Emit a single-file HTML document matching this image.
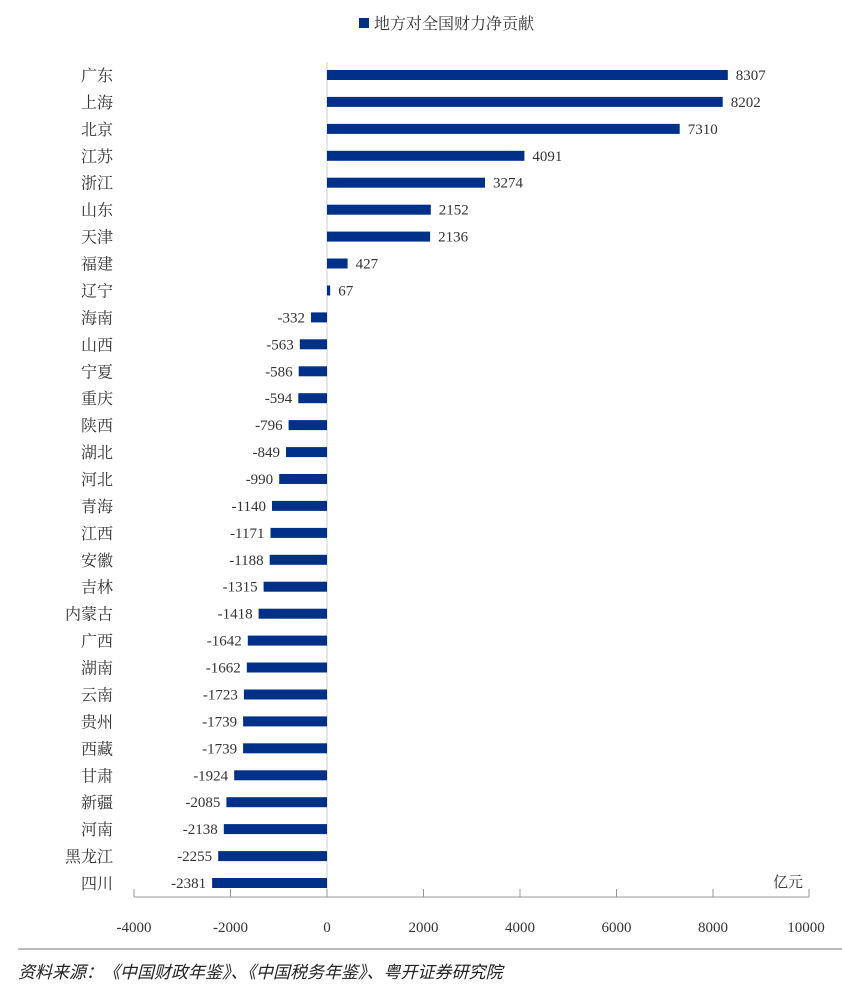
<!DOCTYPE html>
<html><head><meta charset="utf-8"><style>
body{margin:0;background:#fff;}
svg text{font-family:"Liberation Serif","Noto Serif CJK SC",serif;fill:#333;}
.b{fill:#003087}
</style></head><body>
<svg width="842" height="1000" xmlns="http://www.w3.org/2000/svg">
<rect x="359" y="18" width="10" height="10" fill="#003087"/>
<text x="374" y="29" font-size="16">地方对全国财力净贡献</text>
<line x1="327" y1="62" x2="327" y2="897" stroke="#ccc" stroke-width="1"/>
<g>
<rect class="b" x="327" y="70" width="400.8" height="10"/>
<rect class="b" x="327" y="96.9" width="395.7" height="10"/>
<rect class="b" x="327" y="123.9" width="352.7" height="10"/>
<rect class="b" x="327" y="150.8" width="197.4" height="10"/>
<rect class="b" x="327" y="177.7" width="158.0" height="10"/>
<rect class="b" x="327" y="204.7" width="103.8" height="10"/>
<rect class="b" x="327" y="231.6" width="103.1" height="10"/>
<rect class="b" x="327" y="258.5" width="20.6" height="10"/>
<rect class="b" x="327" y="285.5" width="3.2" height="10"/>
<rect class="b" x="311.0" y="312.4" width="16.0" height="10"/>
<rect class="b" x="299.8" y="339.3" width="27.2" height="10"/>
<rect class="b" x="298.7" y="366.3" width="28.3" height="10"/>
<rect class="b" x="298.3" y="393.2" width="28.7" height="10"/>
<rect class="b" x="288.6" y="420.1" width="38.4" height="10"/>
<rect class="b" x="286.0" y="447.1" width="41.0" height="10"/>
<rect class="b" x="279.2" y="474.0" width="47.8" height="10"/>
<rect class="b" x="272.0" y="500.9" width="55.0" height="10"/>
<rect class="b" x="270.5" y="527.9" width="56.5" height="10"/>
<rect class="b" x="269.7" y="554.8" width="57.3" height="10"/>
<rect class="b" x="263.6" y="581.7" width="63.4" height="10"/>
<rect class="b" x="258.6" y="608.7" width="68.4" height="10"/>
<rect class="b" x="247.8" y="635.6" width="79.2" height="10"/>
<rect class="b" x="246.8" y="662.5" width="80.2" height="10"/>
<rect class="b" x="243.9" y="689.5" width="83.1" height="10"/>
<rect class="b" x="243.1" y="716.4" width="83.9" height="10"/>
<rect class="b" x="243.1" y="743.3" width="83.9" height="10"/>
<rect class="b" x="234.2" y="770.3" width="92.8" height="10"/>
<rect class="b" x="226.4" y="797.2" width="100.6" height="10"/>
<rect class="b" x="223.8" y="824.1" width="103.2" height="10"/>
<rect class="b" x="218.2" y="851.1" width="108.8" height="10"/>
<rect class="b" x="212.1" y="878" width="114.9" height="10"/>
</g>
<g font-size="16" text-anchor="end">
<text x="113" y="81">广东</text><text x="113" y="107.9">上海</text><text x="113" y="134.9">北京</text><text x="113" y="161.8">江苏</text><text x="113" y="188.7">浙江</text><text x="113" y="215.7">山东</text><text x="113" y="242.6">天津</text><text x="113" y="269.5">福建</text><text x="113" y="296.5">辽宁</text><text x="113" y="323.4">海南</text><text x="113" y="350.3">山西</text><text x="113" y="377.3">宁夏</text><text x="113" y="404.2">重庆</text><text x="113" y="431.1">陕西</text><text x="113" y="458.1">湖北</text><text x="113" y="485">河北</text><text x="113" y="511.9">青海</text><text x="113" y="538.9">江西</text><text x="113" y="565.8">安徽</text><text x="113" y="592.7">吉林</text><text x="113" y="619.7">内蒙古</text><text x="113" y="646.6">广西</text><text x="113" y="673.5">湖南</text><text x="113" y="700.5">云南</text><text x="113" y="727.4">贵州</text><text x="113" y="754.3">西藏</text><text x="113" y="781.3">甘肃</text><text x="113" y="808.2">新疆</text><text x="113" y="835.1">河南</text><text x="113" y="862.1">黑龙江</text><text x="113" y="889">四川</text>
</g>
<g font-size="15">
<text x="735.8" y="80">8307</text><text x="730.7" y="106.9">8202</text><text x="687.7" y="133.9">7310</text><text x="532.4" y="160.8">4091</text><text x="493" y="187.7">3274</text><text x="438.8" y="214.7">2152</text><text x="438.1" y="241.6">2136</text><text x="355.6" y="268.5">427</text><text x="338.2" y="295.5">67</text>
</g>
<g font-size="15" text-anchor="end">
<text x="305" y="322.4">-332</text><text x="293.8" y="349.3">-563</text><text x="292.7" y="376.3">-586</text><text x="292.3" y="403.2">-594</text><text x="282.6" y="430.1">-796</text><text x="280" y="457.1">-849</text><text x="273.2" y="484">-990</text><text x="266" y="510.9">-1140</text><text x="264.5" y="537.9">-1171</text><text x="263.7" y="564.8">-1188</text><text x="257.6" y="591.7">-1315</text><text x="252.6" y="618.7">-1418</text><text x="241.8" y="645.6">-1642</text><text x="240.8" y="672.5">-1662</text><text x="237.9" y="699.5">-1723</text><text x="237.1" y="726.4">-1739</text><text x="237.1" y="753.3">-1739</text><text x="228.2" y="780.3">-1924</text><text x="220.4" y="807.2">-2085</text><text x="217.8" y="834.1">-2138</text><text x="212.2" y="861.1">-2255</text><text x="206.1" y="888">-2381</text>
</g>
<line x1="134" y1="897" x2="809" y2="897" stroke="#999" stroke-width="1"/>
<g stroke="#999">
<line x1="134" y1="889" x2="134" y2="897"/><line x1="230.5" y1="889" x2="230.5" y2="897"/><line x1="327" y1="889" x2="327" y2="897"/><line x1="423.5" y1="889" x2="423.5" y2="897"/><line x1="520" y1="889" x2="520" y2="897"/><line x1="616.5" y1="889" x2="616.5" y2="897"/><line x1="713" y1="889" x2="713" y2="897"/><line x1="809" y1="889" x2="809" y2="897"/>
</g>
<g font-size="15" text-anchor="middle">
<text x="134" y="932">-4000</text><text x="230.5" y="932">-2000</text><text x="327" y="932">0</text><text x="423.5" y="932">2000</text><text x="520" y="932">4000</text><text x="616.5" y="932">6000</text><text x="713" y="932">8000</text><text x="806" y="932">10000</text>
</g>
<text x="773" y="887" font-size="15">亿元</text>
<line x1="18" y1="949" x2="842" y2="949" stroke="#bbb" stroke-width="2"/>
<text x="18" y="978" font-size="17" font-style="italic" style="font-family:'Noto Sans CJK SC',sans-serif;fill:#222">资料来源：《中国财政年鉴》、《中国税务年鉴》、粤开证券研究院</text>
</svg>
</body></html>
